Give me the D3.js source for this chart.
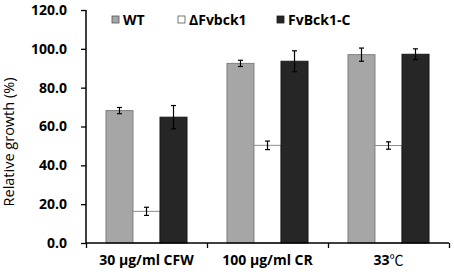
<!DOCTYPE html>
<html>
<head>
<meta charset="utf-8">
<script src="https://cdn.jsdelivr.net/npm/d3@7"></script>
<style>
  body { margin: 0; background: #fff; }
  text { font-family: "Open Sans", sans-serif; }
</style>
</head>
<body>
<svg id="chart"></svg>
<script>
// data
const categories = ["30 \u03bcg/ml CFW", "100 \u03bcg/ml CR", "33\u2103"];
const series = ["WT", "\u0394Fvbck1", "FvBck1-C"];
const wtValues = [68.2, 92.5, 97.0];
const wtErrors = [1.6, 1.6, 3.4];
const mutValues = [16.3, 50.3, 50.2];
const mutErrors = [2.1, 2.2, 1.9];
const compValues = [64.8, 93.6, 97.2];
const compErrors = [6.0, 5.4, 2.8];
const yTicks = [0, 20, 40, 60, 80, 100, 120];

const fills = ["#a6a6a6", "#ffffff", "#262626"];
const strokes = ["#7f7f7f", "#8c8c8c", "#1a1a1a"];

const config = {
  width: 454, height: 276,
  margin: { top: 10, right: 5, bottom: 33, left: 86 }
};
const width = config.width - config.margin.left - config.margin.right;
const height = config.height - config.margin.top - config.margin.bottom;

const svg = d3.select("#chart")
  .attr("width", config.width)
  .attr("height", config.height);

const chart = svg.append("g")
  .attr("transform", `translate(${config.margin.left},${config.margin.top})`);

const valueSets = [wtValues, mutValues, compValues];
const errorSets = [wtErrors, mutErrors, compErrors];
const data = [];
categories.forEach((c, i) => {
  series.forEach((s, j) => {
    data.push({ cat: c, series: s, idx: j, value: valueSets[j][i], err: errorSets[j][i] });
  });
});

const xScale = d3.scaleBand().domain(categories).range([0, width]).padding(0);
const xSub = d3.scaleBand().domain(series).range([0, xScale.bandwidth()])
  .paddingInner(0).paddingOuter(0.74);
const yScale = d3.scaleLinear().domain([0, 120]).range([height, 0]);

// bars
chart.selectAll(".bar")
  .data(data)
  .join("rect")
  .attr("class", "bar")
  .attr("x", d => xScale(d.cat) + xSub(d.series))
  .attr("y", d => yScale(d.value))
  .attr("width", xSub.bandwidth())
  .attr("height", d => height - yScale(d.value))
  .attr("fill", d => fills[d.idx])
  .attr("stroke", d => strokes[d.idx])
  .attr("stroke-width", 1);

// error bars
const eb = chart.selectAll(".err")
  .data(data)
  .join("g")
  .attr("class", "err")
  .attr("transform", d => `translate(${xScale(d.cat) + xSub(d.series) + xSub.bandwidth() / 2},0)`);
eb.append("line")
  .attr("y1", d => yScale(d.value + d.err))
  .attr("y2", d => yScale(d.value - d.err))
  .attr("stroke", "#000").attr("stroke-width", 1.2);
eb.append("line")
  .attr("x1", -2.5).attr("x2", 2.5)
  .attr("y1", d => yScale(d.value + d.err))
  .attr("y2", d => yScale(d.value + d.err))
  .attr("stroke", "#000").attr("stroke-width", 1.2);
eb.append("line")
  .attr("x1", -2.5).attr("x2", 2.5)
  .attr("y1", d => yScale(d.value - d.err))
  .attr("y2", d => yScale(d.value - d.err))
  .attr("stroke", "#000").attr("stroke-width", 1.2);

// axes
const yAxis = d3.axisLeft(yScale)
  .tickValues(yTicks)
  .tickFormat(d3.format(".1f"))
  .tickSize(5)
  .tickPadding(14);
const yAxisGroup = chart.append("g").attr("class", "y-axis").call(yAxis);

const xAxis = d3.axisBottom(d3.scaleLinear().domain([0, 3]).range([0, width]))
  .tickValues([0, 1, 2, 3])
  .tickFormat("")
  .tickSize(5);
const xAxisGroup = chart.append("g")
  .attr("class", "x-axis")
  .attr("transform", `translate(0,${height})`)
  .call(xAxis);

[yAxisGroup, xAxisGroup].forEach(g => {
  g.select(".domain").attr("stroke", "#000").attr("stroke-width", 1.5);
  g.selectAll(".tick line").attr("stroke", "#000").attr("stroke-width", 1.3);
});
yAxisGroup.select(".domain").attr("d", `M0,${height}V0`);
xAxisGroup.select(".domain").attr("d", `M0,0H${width}`);
yAxisGroup.selectAll(".tick text")
  .attr("font-family", "Open Sans")
  .attr("font-weight", "bold")
  .attr("font-size", "14px")
  .attr("fill", "#000");

// category labels
const catLabels = chart.selectAll(".cat-label")
  .data(categories)
  .join("text")
  .attr("class", "cat-label")
  .attr("x", d => xScale(d) + xScale.bandwidth() / 2)
  .attr("y", height + 22)
  .attr("text-anchor", "middle")
  .attr("font-weight", "bold")
  .attr("font-size", "14px");
catLabels.each(function(d) {
  const t = d3.select(this);
  if (d.endsWith("\u2103")) {
    t.append("tspan").text(d.slice(0, -1));
    t.append("tspan")
      .style("font-family", "'Noto Sans CJK SC'")
      .attr("font-weight", "normal")
      .text("\u2103");
  } else {
    t.text(d);
  }
});

// y axis title
svg.append("text")
  .attr("transform", "rotate(-90)")
  .attr("x", -142)
  .attr("y", 14)
  .attr("text-anchor", "middle")
  .attr("font-size", "14.5px")
  .text("Relative growth (%)");

// legend
const legendX = [112, 178, 277];
const legend = svg.selectAll(".legend")
  .data(series)
  .join("g")
  .attr("class", "legend")
  .attr("transform", (d, i) => `translate(${legendX[i]},20)`);
legend.append("rect")
  .attr("x", 0).attr("y", -4)
  .attr("width", 7).attr("height", 7)
  .attr("fill", (d, i) => fills[i])
  .attr("stroke", (d, i) => i === 2 ? "#1a1a1a" : "#555")
  .attr("stroke-width", 0.8);
legend.append("text")
  .attr("x", 11).attr("y", 5)
  .attr("font-weight", "bold")
  .attr("font-size", "14px")
  .text(d => d);
</script>
</body>
</html>
